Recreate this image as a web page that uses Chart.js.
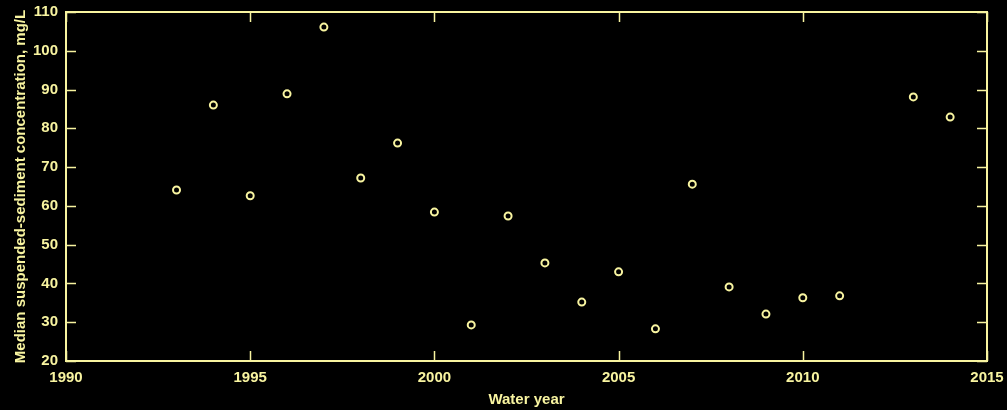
<!DOCTYPE html>
<html>
<head>
<meta charset="utf-8">
<script src="https://cdn.jsdelivr.net/npm/chart.js@4"></script>
<style>
html,body{margin:0;padding:0;background:#000;}
canvas{display:block;}
</style>
</head>
<body>
<canvas id="c" width="1007" height="410"></canvas>
<script>
const waterYears = [1993,1994,1995,1996,1997,1998,1999,2000,2001,2002,2003,2004,2005,2006,2007,2008,2009,2010,2011,2013,2014];
const medianSSC = [64.1,86.0,62.6,88.9,106.1,67.2,76.2,58.4,29.3,57.4,45.3,35.2,43.0,28.3,65.6,39.1,32.1,36.3,36.8,88.1,82.9];
const xTicks = [1990,1995,2000,2005,2010,2015];
const yTicks = [20,30,40,50,60,70,80,90,100,110];

const FG = 'rgb(248,244,160)';
const FONT = 'Liberation Sans, Arial, sans-serif';

const boxPlugin = {
  id: 'box',
  afterDraw(chart) {
    const {ctx, chartArea: a, scales: {x, y}} = chart;
    ctx.save();
    ctx.strokeStyle = FG;
    ctx.lineWidth = 2;
    ctx.strokeRect(a.left, a.top, a.right - a.left, a.bottom - a.top);
    ctx.lineWidth = 1.5;
    const L = 10;
    ctx.beginPath();
    xTicks.forEach(v => {
      const px = Math.round(x.getPixelForValue(v)) + 0.5;
      ctx.moveTo(px, a.bottom); ctx.lineTo(px, a.bottom - L);
      ctx.moveTo(px, a.top); ctx.lineTo(px, a.top + L);
    });
    yTicks.forEach(v => {
      const py = Math.round(y.getPixelForValue(v)) + 0.5;
      ctx.moveTo(a.left, py); ctx.lineTo(a.left + L, py);
      ctx.moveTo(a.right, py); ctx.lineTo(a.right - L, py);
    });
    ctx.stroke();
    ctx.restore();
  }
};

new Chart(document.getElementById('c'), {
  type: 'scatter',
  data: {
    datasets: [{
      data: waterYears.map((yr, i) => ({x: yr, y: medianSSC[i]})),
      pointStyle: 'circle',
      pointRadius: 3.5,
      pointBorderWidth: 2,
      pointBorderColor: FG,
      pointBackgroundColor: 'rgba(0,0,0,0)',
      showLine: false
    }]
  },
  options: {
    responsive: false,
    animation: false,
    layout: {padding: {left: 0, top: 12, right: 20, bottom: 0}},
    plugins: {legend: {display: false}, tooltip: {enabled: false}},
    scales: {
      x: {
        type: 'linear', min: 1990, max: 2015,
        afterBuildTicks: s => { s.ticks = xTicks.map(v => ({value: v})); },
        afterFit: s => { s.height = 49; s.paddingLeft = 0; s.paddingRight = 0; },
        grid: {display: false, drawTicks: false},
        border: {display: false},
        ticks: {color: FG, padding: 8, font: {family: FONT, size: 15, weight: 'bold'}, maxRotation: 0, callback: v => String(v)},
        title: {display: true, text: 'Water year', color: FG, padding: {top: 0, bottom: 1}, font: {family: FONT, size: 15, weight: 'bold'}}
      },
      y: {
        type: 'linear', min: 20, max: 110,
        afterBuildTicks: s => { s.ticks = yTicks.map(v => ({value: v})); },
        afterFit: s => { s.width = 66; s.paddingTop = 0; s.paddingBottom = 0; },
        grid: {display: false, drawTicks: false},
        border: {display: false},
        ticks: {color: FG, padding: 8, font: {family: FONT, size: 15, weight: 'bold'}, callback: v => String(v)},
        title: {display: true, text: 'Median suspended-sediment concentration, mg/L', color: FG, padding: {top: 12, bottom: 0}, font: {family: FONT, size: 15, weight: 'bold'}}
      }
    }
  },
  plugins: [boxPlugin]
});
</script>
</body>
</html>
